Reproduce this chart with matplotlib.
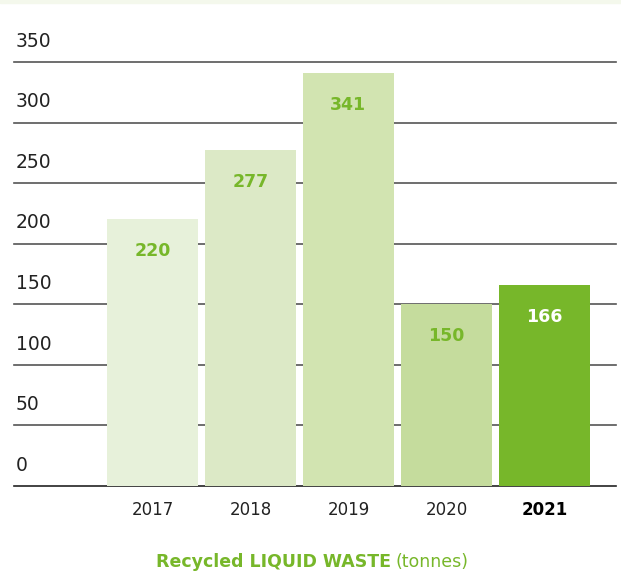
import matplotlib.pyplot as plt
from matplotlib.transforms import blended_transform_factory

years = ['2017', '2018', '2019', '2020', '2021']
values = [220, 277, 341, 150, 166]
bar_colors = ['#e7f1da', '#dce9c6', '#d2e4b1', '#c5dc9d', '#77b72a']
yticks = [0, 50, 100, 150, 200, 250, 300, 350]

GREEN = '#77b72a'
plt.rcParams['font.family'] = ['DejaVu Sans']

fig = plt.figure(figsize=(6.21, 5.78), dpi=100)
fig.patches.append(plt.Rectangle((0, 0.994), 1, 0.006, transform=fig.transFigure,
                                 color='#f4f8ec', zorder=0))
ax = fig.add_axes([0.0225, 0.1592, 0.9694, 0.7336])

x = range(len(years))
ax.bar(x, values, width=0.93, color=bar_colors, zorder=2)

# horizontal rules
for v in yticks:
    ax.axhline(v, color='#222222' if v == 0 else '#555555', lw=1.2, zorder=1,
               clip_on=False)

ax.set_xlim(-1.413, 4.73)
ax.set_ylim(0, 350)
for s in ax.spines.values():
    s.set_visible(False)
ax.set_yticks([])
ax.set_xticks(list(x))
ax.set_xticklabels(years, fontsize=12, color='#222222')
ax.tick_params(axis='x', length=0, pad=11)
ax.get_xticklabels()[-1].set_fontweight('bold')
ax.get_xticklabels()[-1].set_color('#000000')

# y labels sitting above their rules
tr = blended_transform_factory(ax.transAxes, ax.transData)
for v in yticks:
    ax.annotate(str(v), xy=(0, v), xycoords=tr, xytext=(1.5, 15),
                textcoords='offset points', ha='left', va='center',
                fontsize=13.5, color='#222222')

# value labels inside bars
for i, v in enumerate(values):
    last = i == len(values) - 1
    ax.annotate(str(v), xy=(i, v), xytext=(0, -23), textcoords='offset points',
                ha='center', va='center', fontsize=12.5,
                color='white' if last else GREEN,
                fontweight='bold', zorder=3)

# caption
fig.text(0.630, 0.027, 'Recycled LIQUID WASTE', ha='right', va='center',
         fontsize=12.5, fontweight='bold', color=GREEN)
fig.text(0.637, 0.027, '(tonnes)', ha='left', va='center',
         fontsize=12.5, color=GREEN)

fig.savefig('out.png', dpi=100)
